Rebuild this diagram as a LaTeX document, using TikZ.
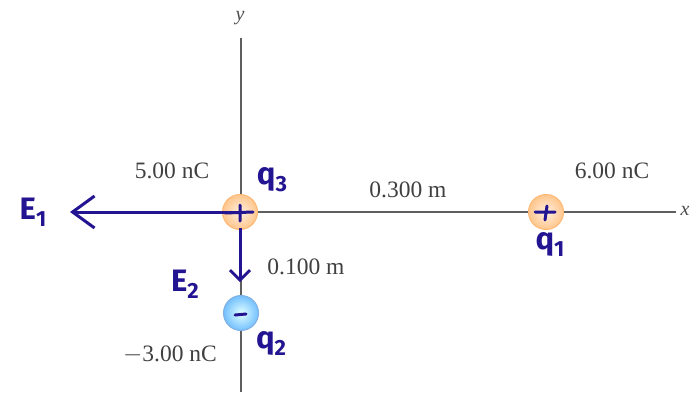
\documentclass[tikz,border=0pt]{standalone}
\usepackage{fontspec}
\setmainfont{Liberation Serif}
\newfontfamily\hand{Fira Sans}
\usetikzlibrary{arrows.meta}
\definecolor{ink}{RGB}{35,20,145}
\definecolor{axisgray}{RGB}{95,95,95}
\newcommand{\hsub}[2]{#1{\fontsize{22}{22}\selectfont\raisebox{-7pt}{#2}}}
\tikzset{
  axisline/.style={draw=axisgray,line width=1.3pt},
  lab/.style={font=\fontsize{23.5}{24}\selectfont,text=black!75},
  poscharge/.style={circle,minimum size=35pt,inner sep=0pt,inner color=orange!12,outer color=orange!45,draw=orange!55,line width=1pt},
  negcharge/.style={circle,minimum size=35pt,inner sep=0pt,inner color=cyan!12,outer color=cyan!55!blue!55,draw=cyan!60!blue!50,line width=1pt},
  hw/.style={text=ink,font=\hand\bfseries\fontsize{31}{31}\selectfont},
  vec/.style={draw=ink,line width=3pt},
  bighead/.style={-{Straight Barb[length=22pt,width=32pt,line width=3pt]}},
  smallhead/.style={-{Straight Barb[length=10pt,width=20pt,line width=2.8pt]}},
}
\begin{document}
\begin{tikzpicture}[x=1pt,y=-1pt]
\useasboundingbox (0,0) rectangle (690,394);
% axes
\coordinate (ytop) at (241,38);
\coordinate (ybot) at (241,392);
\coordinate (xstart) at (241,212);
\coordinate (xend) at (676,212);
\draw[axisline] (ytop) -- (ybot);
\draw[axisline] (xstart) -- (xend);
\node[font=\itshape\fontsize{20}{20}\selectfont,text=black!70] (ylab) at (240,18) {y};
\node[font=\itshape\fontsize{20}{20}\selectfont,text=black!70,anchor=west] (xlab) at (677,211) {x};
% charges
\node[poscharge] (q3) at (240,212) {};
\node[poscharge] (q1) at (546,212) {};
\node[negcharge] (q2) at (241,313) {};
% printed labels
\node[lab] (l3) at (172,171) {5.00 nC};
\node[lab] (l1) at (612,171) {6.00 nC};
\node[lab] (d1) at (408,190) {0.300 m};
\node[lab] (d2) at (306,267) {0.100 m};
\node[lab] (l2) at (170,355) {$-$3.00 nC};
% handwritten signs
\draw[ink,line width=3pt,line cap=round] (225,213) -- (253,212) (240,205) -- (240,221);
\draw[ink,line width=3pt,line cap=round] (535,212) -- (555,212) (547,206) -- (545,220);
\draw[ink,line width=3pt,line cap=round] (235,315) -- (246,314);
% field vectors
\coordinate (e1end) at (70,212);
\coordinate (e2start) at (240,228);
\coordinate (e2end) at (240,282);
\draw[vec,bighead] (q3.center) -- (e1end);
\draw[vec,smallhead] (e2start) -- (e2end);
% handwritten labels
\node[hw] (E1) at (33,212) {\hsub{E}{1}};
\node[hw] (E2) at (185,284) {\hsub{E}{2}};
\node[hw] (q3l) at (272,180) {\hsub{q}{3}};
\node[hw] (q1l) at (550,245) {\hsub{q}{1}};
\node[hw] (q2l) at (271,343) {\hsub{q}{2}};
\end{tikzpicture}
\end{document}
